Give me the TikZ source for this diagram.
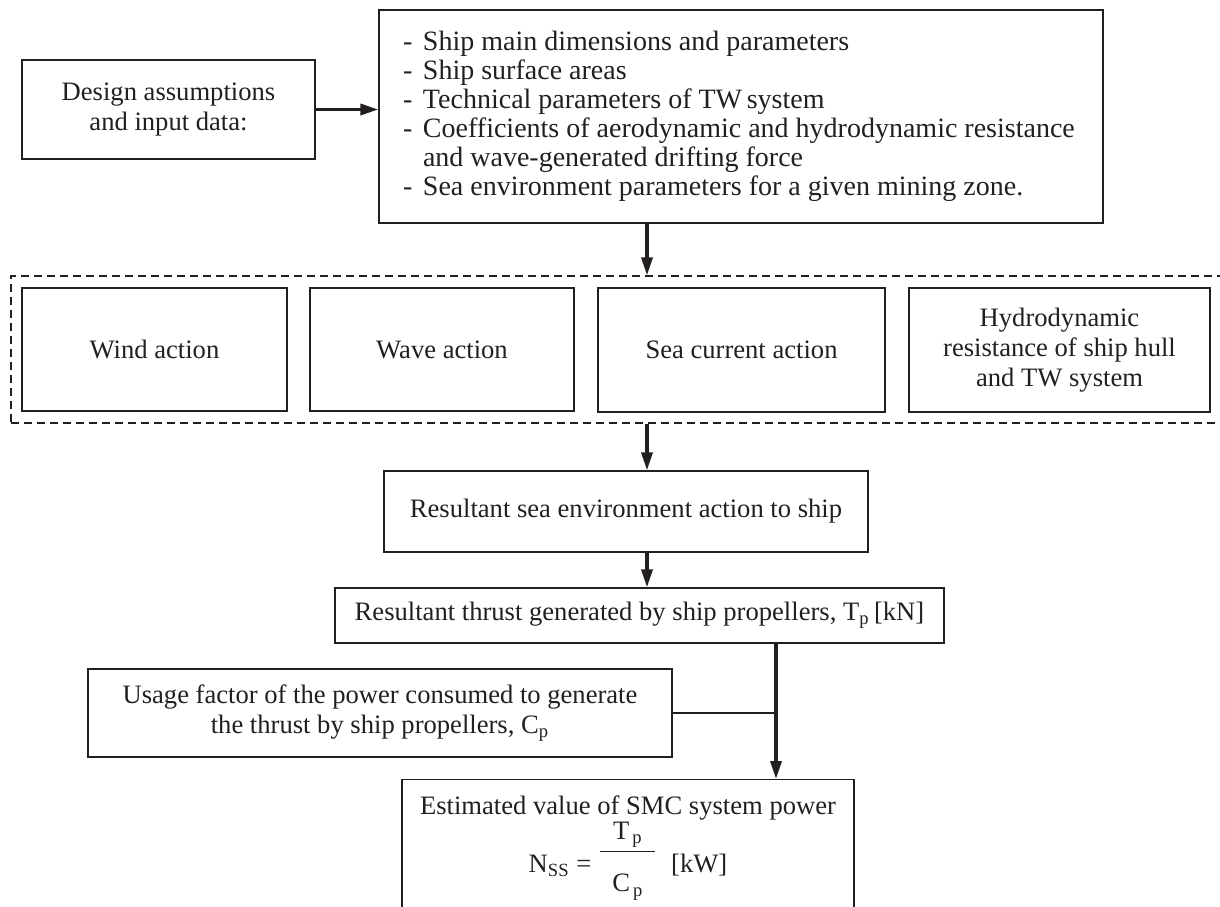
\documentclass[tikz,border=0pt]{standalone}
\usepackage{fontspec}
\setmainfont{Liberation Serif}
\usepackage{amsmath}
\usepackage{tikz}
\usetikzlibrary{arrows.meta}
\definecolor{ink}{HTML}{231F20}

\begin{document}
\begin{tikzpicture}[x=.5pt,y=-.5pt,
  box/.style={draw=ink,line width=.65pt,inner sep=0pt,align=center,
    text=ink,font=\fontsize{13.3}{15}\selectfont},
  frame/.style={draw=ink,line width=.6pt,dash pattern=on 4pt off 2.5pt,inner sep=0pt},
  arr/.style={draw=ink,line width=1.7pt,-{Triangle[length=9pt,width=5.5pt]}},
  link/.style={draw=ink,line width=.65pt}]
 \useasboundingbox (0,0) rectangle (1220,906);
 \clip (0,0) rectangle (1220,906);
 \coordinate (colA) at (647,0);
 \coordinate (colB) at (776,0);
 % input data
 \node[box,minimum width=146.5pt,minimum height=49.5pt] (design) at (168.5,109.5)
   {Design assumptions\\and input data:};
 \node[box,minimum width=362pt,minimum height=106.5pt,
   font=\fontsize{14}{14.5}\selectfont] (params) at (741,116.5)
   {\parbox{338pt}{\raggedright
    \makebox[10pt][l]{-}Ship main dimensions and parameters\\
    \makebox[10pt][l]{-}Ship surface areas\\
    \makebox[10pt][l]{-}Technical parameters of TW\,system\\
    \makebox[10pt][l]{-}Coefficients of aerodynamic and hydrodynamic resistance\\
    \makebox[10pt]{}and wave-generated drifting force\\
    \makebox[10pt][l]{-}Sea environment parameters for a given mining zone.}};
 % sea actions
 \node[frame,minimum width=614.5pt,minimum height=73.5pt] (actions) at (625.5,349.5) {};
 \node[box,minimum width=132.5pt,minimum height=61.5pt] (wind) at (154.5,349.5) {Wind action};
 \node[box,minimum width=132pt,minimum height=61.5pt] (wave) at (442,349.5) {Wave action};
 \node[box,minimum width=143.5pt,minimum height=62pt] (current) at (741.5,350) {Sea current action};
 \node[box,minimum width=150.5pt,minimum height=62pt] (hull) at (1059.5,350)
   {Hydrodynamic\\resistance of ship hull\\and TW system};
 % results
 \node[box,minimum width=242pt,minimum height=40.5pt] (resultant) at (626,511.5)
   {Resultant sea environment action to ship};
 \node[box,minimum width=304.5pt,minimum height=27.5pt] (thrust) at (639.5,615.5)
   {Resultant thrust generated by ship propellers, T\textsubscript{p}\,[kN]};
 \node[box,minimum width=292pt,minimum height=44pt] (usage) at (380,713)
   {Usage factor of the power consumed to generate\\the thrust by ship propellers, C\textsubscript{p}};
 \node[box,anchor=north,minimum width=226pt,inner ysep=8pt] (power) at (628,779)
   {Estimated value of SMC system power\\[0pt]
    N\textsubscript{SS} = \raisebox{6.5pt}{$\dfrac{\text{\hspace{6pt}T\textsubscript{\,p}\hspace{6pt}}}
      {\text{\rule{0pt}{18pt}\hspace{6pt}C\textsubscript{\,p}\hspace{6pt}}}$}\ \ [kW]};
 % connectors
 \draw[arr] (design.east) -- (design.east -| params.west);
 \draw[arr] (colA |- params.south) -- (colA |- actions.north);
 \draw[arr] (colA |- actions.south) -- (colA |- resultant.north);
 \draw[arr] (colA |- resultant.south) -- (colA |- thrust.north);
 \draw[arr] (colB |- thrust.south) -- (colB |- power.north);
 \draw[link] (usage.east) -- (usage.east -| colB);
\end{tikzpicture}
\end{document}
